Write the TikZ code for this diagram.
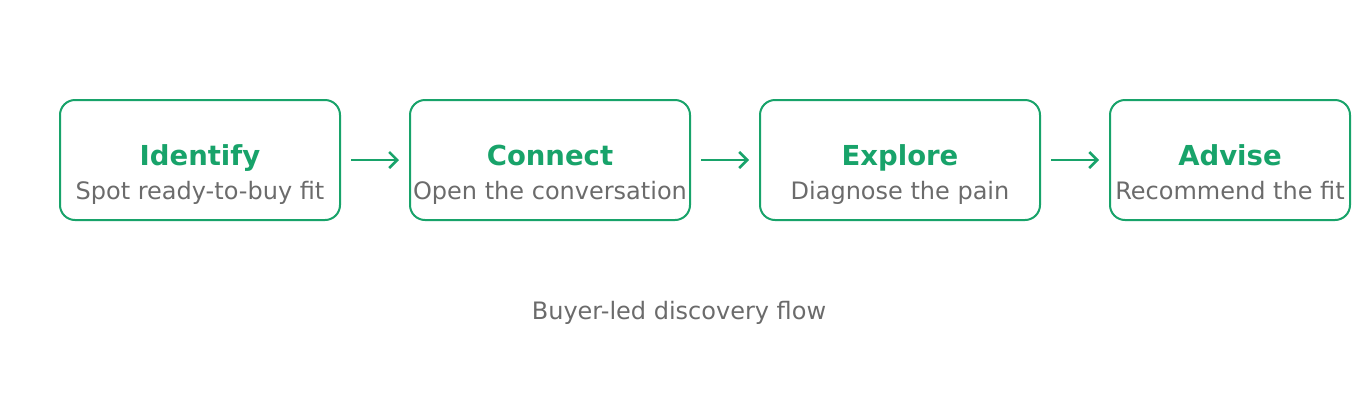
\documentclass[tikz,border=0pt]{standalone}
\usepackage{fontspec}
\setmainfont{DejaVu Sans}
\usetikzlibrary{arrows.meta,positioning}
\definecolor{stepgreen}{RGB}{24,163,106}
\definecolor{stepgray}{RGB}{107,107,107}
\tikzset{
  stagebox/.style={draw=stepgreen, line width=2pt, rounded corners=15pt, minimum height=120pt, inner sep=0pt},
  steptitle/.style={text=stepgreen, anchor=base, inner sep=0pt, font=\fontsize{27.5}{32}\selectfont\bfseries},
  stepsub/.style={text=stepgray, anchor=base, inner sep=0pt, font=\fontsize{24}{28}\selectfont},
  flow/.style={draw=stepgreen, line width=2.5pt, -{Straight Barb[length=8pt,width=16pt]}, shorten <=10pt, shorten >=10pt}
}
\begin{document}
\begin{tikzpicture}[x=1pt,y=-1pt]
  \useasboundingbox (0,0) rectangle (1360,400);

  % Steps
  \node[stagebox, minimum width=280pt] (identify) at (200,160) {};
  \node[stagebox, minimum width=280pt] (connect) at (550,160) {};
  \node[stagebox, minimum width=280pt] (explore) at (900,160) {};
  \node[stagebox, minimum width=240pt] (advise) at (1230,160) {};

  % Labels
  \node[steptitle] at (200,165) {Identify};
  \node[stepsub] at (200,199) {Spot ready-to-buy fit};
  \node[steptitle] at (550,165) {Connect};
  \node[stepsub] at (550,199) {Open the conversation};
  \node[steptitle] at (900,165) {Explore};
  \node[stepsub] at (900,199) {Diagnose the pain};
  \node[steptitle] at (1230,165) {Advise};
  \node[stepsub] at (1230,199) {Recommend the fit};

  % Arrows
  \draw[flow] (identify) -- (connect);
  \draw[flow] (connect) -- (explore);
  \draw[flow] (explore) -- (advise);

  % Caption
  \node[stepsub] (caption) at (679,319) {Buyer-led discovery flow};
\end{tikzpicture}
\end{document}
